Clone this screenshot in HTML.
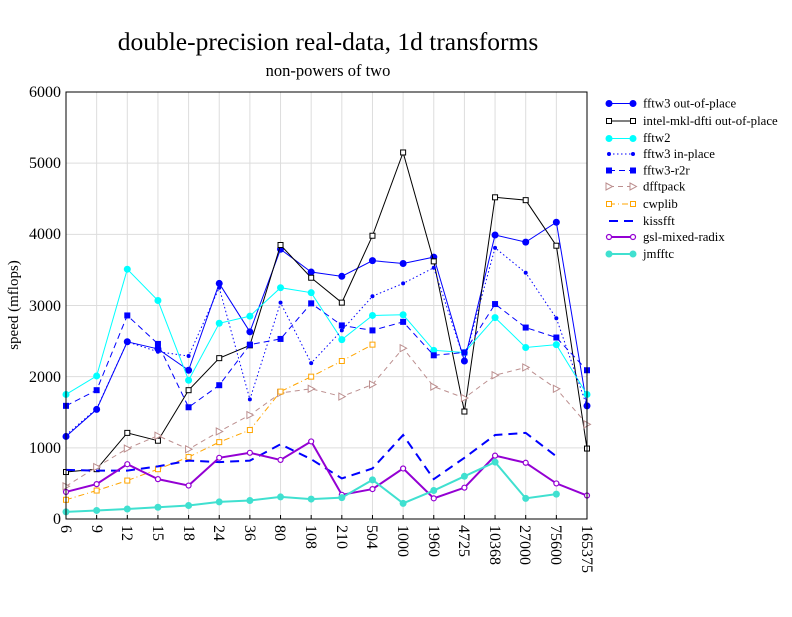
<!DOCTYPE html>
<html><head><meta charset="utf-8"><style>
body{margin:0;background:#fff;width:792px;height:612px;overflow:hidden}
text{font-family:"Liberation Serif",serif}
</style></head><body>
<svg id="s" width="792" height="612" xmlns="http://www.w3.org/2000/svg">
<text x="328" y="50" font-size="25.5" text-anchor="middle">double-precision real-data, 1d transforms</text>
<text x="328" y="76" font-size="16.5" text-anchor="middle">non-powers of two</text>
<text transform="translate(18,305) rotate(-90)" font-size="15" text-anchor="middle">speed (mflops)</text>
<g font-size="16" text-anchor="end">
<text x="61" y="524">0</text><text x="61" y="453">1000</text><text x="61" y="382">2000</text><text x="61" y="311">3000</text><text x="61" y="239">4000</text><text x="61" y="168">5000</text><text x="61" y="97">6000</text>
</g>
<g id="grid"></g>
<g id="series"></g>
<rect x="66" y="92" width="521" height="427" fill="none" stroke="#000" stroke-width="1"/>
<g id="leg"></g>
<g font-size="12.8">
<text x="643" y="107.5">fftw3 out-of-place</text>
<text x="643" y="125">intel-mkl-dfti out-of-place</text>
<text x="643" y="142">fftw2</text>
<text x="643" y="158">fftw3 in-place</text>
<text x="643" y="174.5">fftw3-r2r</text>
<text x="643" y="190.5">dfftpack</text>
<text x="643" y="208">cwplib</text>
<text x="643" y="225">kissfft</text>
<text x="643" y="241">gsl-mixed-radix</text>
<text x="643" y="258">jmfftc</text>
</g>
<g font-size="16" id="xlabels">
<text transform="translate(61,525) rotate(90)">6</text>
<text transform="translate(92,525) rotate(90)">9</text>
<text transform="translate(122,525) rotate(90)">12</text>
<text transform="translate(153,525) rotate(90)">15</text>
<text transform="translate(184,525) rotate(90)">18</text>
<text transform="translate(214,525) rotate(90)">24</text>
<text transform="translate(245,525) rotate(90)">36</text>
<text transform="translate(275,525) rotate(90)">80</text>
<text transform="translate(306,525) rotate(90)">108</text>
<text transform="translate(337,525) rotate(90)">210</text>
<text transform="translate(367,525) rotate(90)">504</text>
<text transform="translate(398,525) rotate(90)">1000</text>
<text transform="translate(429,525) rotate(90)">1960</text>
<text transform="translate(459,525) rotate(90)">4725</text>
<text transform="translate(490,525) rotate(90)">10368</text>
<text transform="translate(520,525) rotate(90)">27000</text>
<text transform="translate(551,525) rotate(90)">75600</text>
<text transform="translate(582,525) rotate(90)">165375</text>
</g>
</svg>
<script>
var NS="http://www.w3.org/2000/svg";
function X(i){return 66+i*30.647}
function Y(v){return 519-v*0.07117}
function el(p,t,a){var e=document.createElementNS(NS,t);for(var k in a)e.setAttribute(k,a[k]);p.appendChild(e);return e}
var g=document.getElementById('grid');
for(var i=1;i<6;i++)el(g,'line',{x1:66,x2:587,y1:Y(i*1000),y2:Y(i*1000),stroke:'#ddd'});
for(var i=1;i<17;i++)el(g,'line',{x1:X(i),x2:X(i),y1:92,y2:519,stroke:'#ddd'});
for(var i=0;i<18;i++)el(g,'line',{x1:X(i),x2:X(i),y1:519,y2:515,stroke:'#000'});
var S=[
{c:'#0000ff',d:'',m:'fc',w:1,v:[1160,1540,2490,2390,2090,3310,2630,3790,3470,3410,3630,3590,3680,2220,3990,3890,4170,1590]},
{c:'#000',d:'',m:'os',w:1,v:[660,700,1210,1100,1810,2260,2440,3850,3390,3040,3980,5150,3620,1510,4520,4480,3840,990]},
{c:'#00ffff',d:'',m:'fc',w:1,v:[1750,2010,3510,3070,1950,2750,2850,3250,3180,2520,2860,2870,2370,2340,2830,2410,2450,1750]},
{c:'#0000ff',d:'1.5,2.5',m:'dot',w:1,v:[1180,1550,2490,2350,2290,3250,1680,3040,2190,2650,3130,3310,3530,2230,3810,3460,2820,1580]},
{c:'#0000ff',d:'6,4',m:'fs',w:1,v:[1590,1810,2860,2460,1570,1880,2450,2530,3030,2720,2650,2770,2300,2340,3020,2690,2550,2090]},
{c:'#bc8f8f',d:'5,4',m:'tri',w:1,v:[460,730,990,1170,980,1230,1460,1770,1830,1720,1890,2400,1860,1700,2020,2130,1830,1330]},
{c:'#ffa500',d:'6,3,1,3',m:'os',w:1,v:[270,400,540,700,870,1080,1250,1790,2000,2220,2450]},
{c:'#0000ff',d:'9,6',m:'',w:2,v:[690,680,680,740,820,800,820,1050,840,570,710,1180,560,860,1180,1210,880]},
{c:'#9400d3',d:'',m:'oc',w:2,v:[380,490,770,560,470,860,930,830,1090,340,420,710,290,440,890,790,500,330]},
{c:'#40e0d0',d:'',m:'fc',w:2,v:[100,120,140,165,190,240,260,310,280,300,550,220,400,600,800,290,350]}
];
var sg=document.getElementById('series'),lg=document.getElementById('leg');
function mark(p,m,c,x,y){
 if(m=='fc')el(p,'circle',{cx:x,cy:y,r:3.5,fill:c});
 else if(m=='oc')el(p,'circle',{cx:x,cy:y,r:2.5,fill:'#fff',stroke:c,'stroke-width':1.2});
 else if(m=='os')el(p,'rect',{x:x-2.5,y:y-2.5,width:5,height:5,fill:'#fff',stroke:c});
 else if(m=='fs')el(p,'rect',{x:x-3,y:y-3,width:6,height:6,fill:c});
 else if(m=='dot')el(p,'circle',{cx:x,cy:y,r:2,fill:c});
 else if(m=='tri')el(p,'polygon',{points:(x-3)+','+(y-3.5)+' '+(x+3.5)+','+y+' '+(x-3)+','+(y+3.5),fill:'#fff',stroke:c});
}
S.forEach(function(s,k){
 var pts=s.v.map(function(v,i){return X(i)+','+Y(v)}).join(' ');
 var a={points:pts,fill:'none',stroke:s.c,'stroke-width':s.w};if(s.d)a['stroke-dasharray']=s.d;
 el(sg,'polyline',a);
 s.v.forEach(function(v,i){if(s.m)mark(sg,s.m,s.c,X(i),Y(v))});
 var ly=[103.5,121,138.5,154,170.5,186.5,204,221,237,254][k];
 var b={x1:609,x2:633,y1:ly,y2:ly,stroke:s.c,'stroke-width':s.w};if(s.d)b['stroke-dasharray']=s.d;
 el(lg,'line',b);
 if(s.m){mark(lg,s.m,s.c,609,ly);mark(lg,s.m,s.c,633,ly);}
});
</script>
</body></html>
